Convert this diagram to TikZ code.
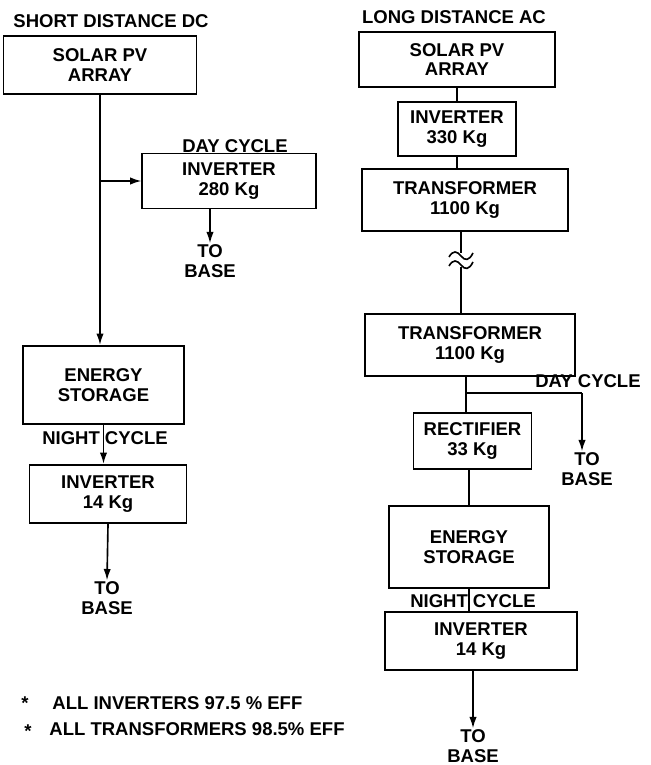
\documentclass[tikz,border=0pt]{standalone}
\usepackage{fontspec}
\setmainfont{Liberation Sans}
\usepackage{tikz}
\usetikzlibrary{arrows.meta, positioning, calc}
\tikzset{
  unitbox/.style={
    draw, line width=1.4pt, align=center, inner sep=0pt,
    font=\fontsize{15.8}{16.6}\selectfont\bfseries, fill=white
  },
  plainlabel/.style={align=center, inner sep=1pt, font=\fontsize{15.8}{16.6}\selectfont\bfseries},
  flowline/.style={line width=1.4pt},
  flowarrow/.style={-{Latex[length=3.4mm,width=2.2mm]}, line width=1.4pt},
}

\begin{document}
\begin{tikzpicture}[x=0.03cm, y=-0.03cm]
  \useasboundingbox (0,0) rectangle (650,765);

  \node[plainlabel] (titledc) at (111,21) {SHORT DISTANCE DC};
  \node[unitbox, minimum width=165, minimum height=49] (pvdc) at (100,65) {SOLAR PV\\ARRAY};
  \node[unitbox, minimum width=148, minimum height=47] (invday) at (229,181) {INVERTER\\280 Kg};
  \node[plainlabel] (daydc) at (235,146) {DAY CYCLE};
  \node[plainlabel] (basedc1) at (210,261) {TO\\BASE};
  \node[unitbox, minimum width=137, minimum height=67] (esdc) at (103.5,385) {ENERGY\\STORAGE};
  \node[plainlabel] (nightdc) at (105,438) {NIGHT CYCLE};
  \node[unitbox, minimum width=134, minimum height=50] (invnightdc) at (108,494) {INVERTER\\14 Kg};
  \node[plainlabel] (basedc2) at (107,598) {TO\\BASE};

  \coordinate (splitdc) at (pvdc.south |- invday.west);
  \draw[flowarrow] (pvdc.south) -- (pvdc.south |- esdc.north);
  \draw[flowarrow] (splitdc) -- (invday.west);
  \draw[flowarrow] (invday.south -| basedc1) -- (basedc1.north);
  \draw[flowarrow] (esdc.south) -- (esdc.south |- invnightdc.north);
  \draw[flowarrow] (invnightdc.south) -- (basedc2.north);

  \node[plainlabel] (titleac) at (454,17) {LONG DISTANCE AC};
  \node[unitbox, minimum width=167, minimum height=47] (pvac) at (457,59.5) {SOLAR PV\\ARRAY};
  \node[unitbox, minimum width=101, minimum height=46] (invac) at (457,129) {INVERTER\\330 Kg};
  \node[unitbox, minimum width=176, minimum height=53] (trsend) at (465,200) {TRANSFORMER\\1100 Kg};
  \node[unitbox, minimum width=179, minimum height=53] (trrecv) at (470,345) {TRANSFORMER\\1100 Kg};
  \node[plainlabel] (dayac) at (588,381) {DAY CYCLE};
  \node[plainlabel] (baseac1) at (587,469) {TO\\BASE};
  \node[unitbox, minimum width=101, minimum height=48] (rect) at (472.5,441) {RECTIFIER\\33 Kg};
  \node[unitbox, minimum width=137, minimum height=70] (esac) at (469,547) {ENERGY\\STORAGE};
  \node[plainlabel] (nightac) at (473,601) {NIGHT CYCLE};
  \node[unitbox, minimum width=164, minimum height=50] (invnightac) at (481,641) {INVERTER\\14 Kg};
  \node[plainlabel] (baseac2) at (473,746) {TO\\BASE};

  \coordinate (gaptop) at (461,253);
  \coordinate (gapbot) at (461,267);
  \coordinate (splitac) at (466,393);
  \coordinate (dayturn) at (582,393);

  \draw[flowline] (pvac.south) -- (invac.north);
  \draw[flowline] (invac.south) -- (invac.south |- trsend.north);
  \draw[flowline] (trsend.south -| gaptop) -- (gaptop);
  \draw[flowline] (gapbot) -- (gapbot |- trrecv.north);
  \draw[flowline] (449,257) .. controls (453,250) and (457,251) .. (461,256) .. controls (465,261) and (469,261) .. (473,253);
  \draw[flowline] (449,266) .. controls (453,259) and (457,260) .. (461,265) .. controls (465,270) and (469,270) .. (473,262);
  \draw[flowline] (trrecv.south -| splitac) -- (splitac |- rect.north);
  \draw[flowline] (splitac) -- (dayturn);
  \draw[flowarrow] (dayturn) -- (baseac1.north -| dayturn);
  \draw[flowline] (rect.south -| esac.north) -- (esac.north);
  \draw[flowline] (esac.south) -- (esac.south |- invnightac.north);
  \draw[flowarrow] (invnightac.south -| baseac2) -- (baseac2.north);

  \node[plainlabel] (star1) at (25,703) {*};
  \node[plainlabel, anchor=west] (effinv) at (51,703) {ALL INVERTERS 97.5 \% EFF};
  \node[plainlabel] (star2) at (28,731) {*};
  \node[plainlabel, anchor=west] (efftr) at (48,729) {ALL TRANSFORMERS 98.5\% EFF};
\end{tikzpicture}
\end{document}
